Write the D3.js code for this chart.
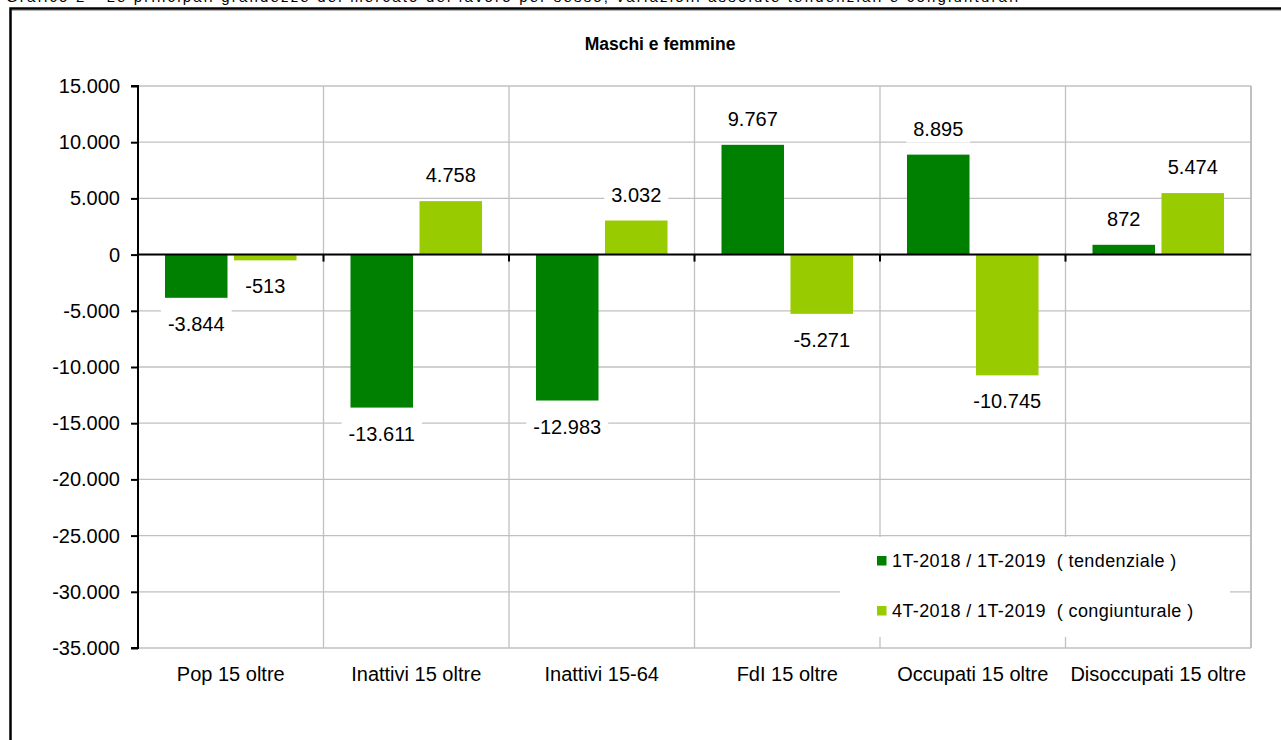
<!DOCTYPE html>
<html>
<head>
<meta charset="utf-8">
<script src="https://cdn.jsdelivr.net/npm/d3@7"></script>
<style>
  body { margin: 0; background: #fff; overflow: hidden; }
  svg { display: block; font-family: "Liberation Sans", Arial, sans-serif; }
  .grid line { stroke: #c0c0c0; stroke-width: 1.3; }
</style>
</head>
<body>
<svg width="1281" height="740"></svg>
<script>
// categories and series
const categories = ['Pop 15 oltre', 'Inattivi 15 oltre', 'Inattivi 15-64', 'FdI 15 oltre', 'Occupati 15 oltre', 'Disoccupati 15 oltre'];
const seriesNames = ['1T-2018 / 1T-2019  ( tendenziale )', '4T-2018 / 1T-2019  ( congiunturale )'];
const seriesColors = ['#008000', '#99cc00'];
const tendenziale = [-3844, -13611, -12983, 9767, 8895, 872];
const congiunturale = [-513, 4758, 3032, -5271, -10745, 5474];
const yTicks = [15000, 10000, 5000, 0, -5000, -10000, -15000, -20000, -25000, -30000, -35000];
const chartTitle = 'Maschi e femmine';
const caption = 'Grafico 2 - Le principali grandezze del mercato del lavoro per sesso, variazioni assolute tendenziali e congiunturali';

const it = d3.formatLocale({decimal: ',', thousands: '.', grouping: [3], currency: ['', '€'], minus: '-'});
const fmt = it.format(',d');

const svg = d3.select('svg');
const plotLeft = 138, plotRight = 1251, plotTop = 86, plotBottom = 648;

// caption (cut off at the top edge, as in the source) and outer frame
svg.append('text')
  .attr('x', 6).attr('y', 2)
  .attr('font-size', 15)
  .attr('textLength', 1012)
  .attr('lengthAdjust', 'spacing')
  .text(caption);

svg.append('path')
  .attr('d', 'M10.5,800V8.5H1300')
  .attr('fill', 'none')
  .attr('stroke', '#000')
  .attr('stroke-width', 2.5);
svg.append('line')
  .attr('x1', 12).attr('x2', 1281)
  .attr('y1', 10.5).attr('y2', 10.5)
  .attr('stroke', '#b0b0b0');

let x = d3.scaleBand()
  .domain(categories)
  .range([plotLeft, plotRight]);

let x1 = d3.scaleBand()
  .domain([0, 1])
  .range([0, x.bandwidth()])
  .paddingInner(0.094)
  .paddingOuter(0.391);

let y = d3.scaleLinear()
  .domain([-35000, 15000])
  .range([plotBottom, plotTop]);

// grid
let grid = svg.append('g').attr('class', 'grid');
grid.selectAll('.h')
  .data(yTicks)
  .enter()
  .append('line')
    .attr('x1', plotLeft).attr('x2', plotRight)
    .attr('y1', d => y(d)).attr('y2', d => y(d));
grid.selectAll('.v')
  .data(categories)
  .enter()
  .append('line')
    .attr('x1', d => x(d) + x.step())
    .attr('x2', d => x(d) + x.step())
    .attr('y1', plotTop).attr('y2', plotBottom)
    .style('stroke-width', (d, i) => i === categories.length - 1 ? 2 : null);

svg.append('text')
  .attr('x', 660).attr('y', 50)
  .attr('text-anchor', 'middle')
  .attr('font-size', 17.5)
  .attr('font-weight', 'bold')
  .text(chartTitle);

// bars
const rows = categories.map((c, i) => ({cat: c, values: [tendenziale[i], congiunturale[i]]}));

let groups = svg.append('g')
  .selectAll('g')
  .data(rows)
  .enter()
  .append('g')
    .attr('transform', d => `translate(${x(d.cat)},0)`);

groups.selectAll('rect')
  .data(d => d.values.map((v, k) => ({v, k})))
  .enter()
  .append('rect')
    .attr('x', d => x1(d.k))
    .attr('width', x1.bandwidth())
    .attr('y', d => y(Math.max(0, d.v)))
    .attr('height', d => Math.abs(y(d.v) - y(0)))
    .attr('fill', d => seriesColors[d.k]);

// axes
let yAxis = svg.append('g')
  .attr('transform', `translate(${plotLeft},0)`)
  .call(d3.axisLeft(y).tickValues(yTicks).tickSize(7).tickPadding(11).tickFormat(fmt));
yAxis.selectAll('text').attr('font-size', 20).attr('fill', '#000').attr('font-family', 'Liberation Sans, Arial');
yAxis.selectAll('line, path').attr('stroke', '#000').attr('stroke-width', 2);
yAxis.select('.domain').attr('d', `M-7,${y(15000)}H0V${y(-35000)}H-7`);

let zero = svg.append('g')
  .attr('transform', `translate(0,${y(0)})`);
zero.append('line')
  .attr('x1', plotLeft).attr('x2', plotRight)
  .attr('stroke', '#000').attr('stroke-width', 2);
zero.selectAll('.tk')
  .data(categories.slice(1))
  .enter()
  .append('line')
    .attr('x1', d => x(d)).attr('x2', d => x(d))
    .attr('y1', 0).attr('y2', 7)
    .attr('stroke', '#000').attr('stroke-width', 2);

svg.append('g')
  .selectAll('text')
  .data(categories)
  .enter()
  .append('text')
    .attr('x', d => x(d) + x.bandwidth() / 2)
    .attr('y', 681)
    .attr('text-anchor', 'middle')
    .attr('font-size', 20)
    .text(d => d);

// value labels with white boxes
let labels = groups.selectAll('g.lab')
  .data(d => d.values.map((v, k) => ({v, k})))
  .enter()
  .append('g')
    .attr('class', 'lab');

labels.append('text')
  .attr('x', d => x1(d.k) + x1.bandwidth() / 2)
  .attr('y', d => d.v >= 0 ? y(d.v) - 26 : y(d.v) + 26)
  .attr('dy', '0.35em')
  .attr('text-anchor', 'middle')
  .attr('font-size', 20)
  .text(d => fmt(d.v));

labels.each(function() {
  let g = d3.select(this);
  let b = g.select('text').node().getBBox();
  g.insert('rect', 'text')
    .attr('x', b.x - 7).attr('y', b.y - 3)
    .attr('width', b.width + 14).attr('height', b.height + 6)
    .attr('fill', '#fff');
});

// legend
let legend = svg.append('g').attr('transform', 'translate(840,537)');
legend.append('rect')
  .attr('width', 390).attr('height', 100)
  .attr('fill', '#fff');
let item = legend.selectAll('g')
  .data(seriesNames)
  .enter()
  .append('g')
    .attr('transform', (d, i) => `translate(37,${19 + i * 50})`);
item.append('rect')
  .attr('width', 9.5).attr('height', 9.5)
  .attr('fill', (d, i) => seriesColors[i]);
item.append('text')
  .attr('x', 15).attr('y', 5)
  .attr('dy', '0.35em')
  .attr('font-size', 18)
  .attr('letter-spacing', 0.4)
  .style('white-space', 'pre')
  .text(d => d);
</script>
</body>
</html>
